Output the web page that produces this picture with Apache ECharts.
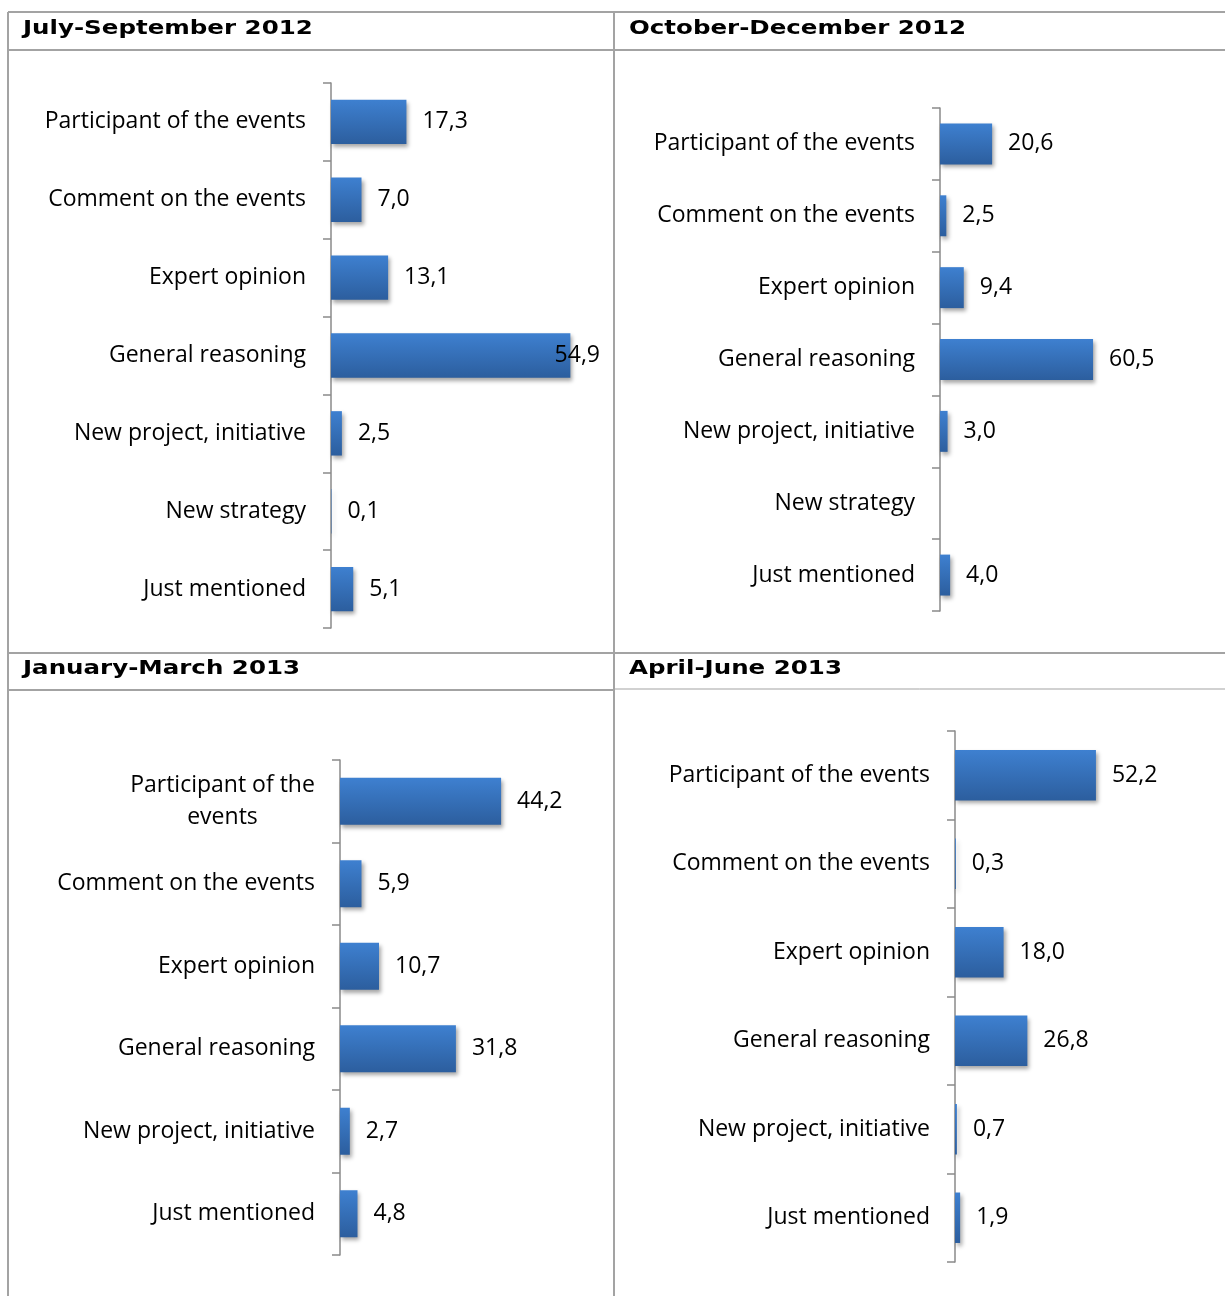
<!DOCTYPE html>
<html>
<head>
<meta charset="utf-8">
<title>Mentions by type, July 2012 – June 2013</title>
<script src="https://cdn.jsdelivr.net/npm/echarts@6/dist/echarts.min.js"></script>
<style>
  html, body { margin: 0; padding: 0; background: #fff; }
  #chart { width: 1225px; height: 1296px; }
</style>
</head>
<body>
<div id="chart"></div>
<script>
// ---- data ----
const periods = ['July-September 2012', 'October-December 2012', 'January-March 2013', 'April-June 2013'];

const categories2012 = ['Participant of the events', 'Comment on the events', 'Expert opinion',
  'General reasoning', 'New project, initiative', 'New strategy', 'Just mentioned'];
const categories2013 = ['Participant of the events', 'Comment on the events', 'Expert opinion',
  'General reasoning', 'New project, initiative', 'Just mentioned'];

const julSep2012 = [17.3, 7.0, 13.1, 54.9, 2.5, 0.1, 5.1];
const octDec2012 = [20.6, 2.5, 9.4, 60.5, 3.0, null, 4.0];
const janMar2013 = [44.2, 5.9, 10.7, 31.8, 2.7, 4.8];
const aprJun2013 = [52.2, 0.3, 18.0, 26.8, 0.7, 1.9];

// ---- layout of the four panels ----
const LABEL_FONT = '"Open Sans"';
const LABEL_SIZE = 23;
const VALUE_SIZE = 23;
const TITLE_FONT = '"DejaVu Sans", Verdana, sans-serif';

const panels = [
  { title: periods[0], cats: categories2012, values: julSep2012,
    left: 331, top: 83, width: 261.6, height: 545, max: 60, labelLimit: 600, wrapWidth: 0,
    titleX: 23, titleY: 29 },
  { title: periods[1], cats: categories2012, values: octDec2012,
    left: 940, top: 108, width: 253, height: 503, max: 100, labelLimit: 1220, wrapWidth: 0,
    titleX: 629, titleY: 29 },
  { title: periods[2], cats: categories2013, values: janMar2013,
    left: 340, top: 760, width: 218.7, height: 495, max: 60, labelLimit: 605, wrapWidth: 258.5,
    titleX: 23, titleY: 669 },
  { title: periods[3], cats: categories2013, values: aprJun2013,
    left: 955, top: 731, width: 276, height: 531, max: 100, labelLimit: 1220, wrapWidth: 0,
    titleX: 629, titleY: 669 }
];

// text measuring for wrapped category names
const measureCtx = document.createElement('canvas').getContext('2d');
function textWidth(s) {
  measureCtx.font = LABEL_SIZE + 'px ' + LABEL_FONT;
  return measureCtx.measureText(s).width;
}
function wrapLabel(name, maxW) {
  if (!maxW || textWidth(name) <= maxW) return name;
  const words = name.split(' ');
  const lines = [];
  let cur = '';
  words.forEach(w => {
    const t = cur ? cur + ' ' + w : w;
    if (textWidth(t) > maxW && cur) { lines.push(cur); cur = w; } else { cur = t; }
  });
  lines.push(cur);
  const boxW = Math.ceil(Math.max.apply(null, lines.map(textWidth)));
  return { lines, boxW };
}

const fmtValue = v => v.toFixed(1).replace('.', ',');

const grids = [], xAxes = [], yAxes = [], series = [];

panels.forEach((p, i) => {
  grids.push({ left: p.left, top: p.top, width: p.width, height: p.height, containLabel: false });

  xAxes.push({
    gridIndex: i, type: 'value', min: 0, max: p.max, show: false,
    splitLine: { show: false }
  });

  // category labels, centred multi-line blocks when wrapped
  yAxes.push({
    gridIndex: i, type: 'category', data: p.cats, inverse: true,
    axisLine: { show: true, lineStyle: { color: '#8a8a8a', width: 1.5 } },
    axisTick: { show: true, inside: false, length: 8, lineStyle: { color: '#8a8a8a', width: 1.5 } },
    axisLabel: {
      margin: 25, color: '#000', fontFamily: LABEL_FONT, fontSize: LABEL_SIZE, lineHeight: 32,
      formatter: function (name) {
        const w = wrapLabel(name, p.wrapWidth);
        if (typeof w === 'string') return name;
        return w.lines.map(l => '{c|' + l + '}').join('\n');
      },
      rich: {
        c: { width: 0, align: 'center', fontFamily: LABEL_FONT, fontSize: LABEL_SIZE, lineHeight: 32, color: '#000' }
      }
    },
    splitLine: { show: false }
  });

  // set the width of the centred box for wrapped labels
  p.cats.forEach(name => {
    const w = wrapLabel(name, p.wrapWidth);
    if (typeof w !== 'string') yAxes[i].axisLabel.rich.c.width = w.boxW;
  });

  series.push({
    type: 'bar', xAxisIndex: i, yAxisIndex: i,
    data: p.values,
    barCategoryGap: '43%',
    itemStyle: {
      color: new echarts.graphic.LinearGradient(0, 0, 0, 1, [
        { offset: 0, color: '#3e80d0' },
        { offset: 1, color: '#2c5e9e' }
      ]),
      shadowColor: 'rgba(0,0,0,0.35)', shadowBlur: 4, shadowOffsetX: 2, shadowOffsetY: 3
    },
    label: {
      show: true, position: 'right', distance: 16, offset: [0, 2],
      color: '#000', fontFamily: LABEL_FONT, fontSize: VALUE_SIZE,
      formatter: prm => prm.value == null ? '' : fmtValue(prm.value)
    },
    // keep value labels inside the panel's chart area
    labelLayout: function (prm) {
      const r = prm.labelRect;
      if (r.x + r.width > p.labelLimit) return { dx: p.labelLimit - (r.x + r.width) };
      return {};
    },
    animation: false
  });
});

// ---- table frame and panel headings ----
const LINE = '#a3a3a3';
const frame = [
  { x1: 8, y1: 12, x2: 1225, y2: 12, w: 2 },
  { x1: 8, y1: 50, x2: 1225, y2: 50, w: 2 },
  { x1: 8, y1: 653, x2: 1225, y2: 653, w: 2 },
  { x1: 8, y1: 690, x2: 614, y2: 690, w: 2 },
  { x1: 614, y1: 689, x2: 1225, y2: 689, w: 1 },
  { x1: 8, y1: 12, x2: 8, y2: 1296, w: 2 },
  { x1: 614, y1: 12, x2: 614, y2: 1296, w: 2 }
];
const graphics = frame.map(l => ({
  type: 'line', silent: true,
  shape: { x1: l.x1, y1: l.y1, x2: l.x2, y2: l.y2 },
  style: { stroke: LINE, lineWidth: l.w }
}));
panels.forEach(p => {
  graphics.push({
    type: 'text', x: p.titleX, y: p.titleY, scaleX: 1.29, silent: true,
    style: { text: p.title, font: 'bold 19px ' + TITLE_FONT, fill: '#000', align: 'left', verticalAlign: 'middle' }
  });
});

const chart = echarts.init(document.getElementById('chart'), null, { renderer: 'canvas' });
chart.setOption({
  animation: false,
  grid: grids,
  xAxis: xAxes,
  yAxis: yAxes,
  series: series,
  graphic: graphics
});
</script>
</body>
</html>
